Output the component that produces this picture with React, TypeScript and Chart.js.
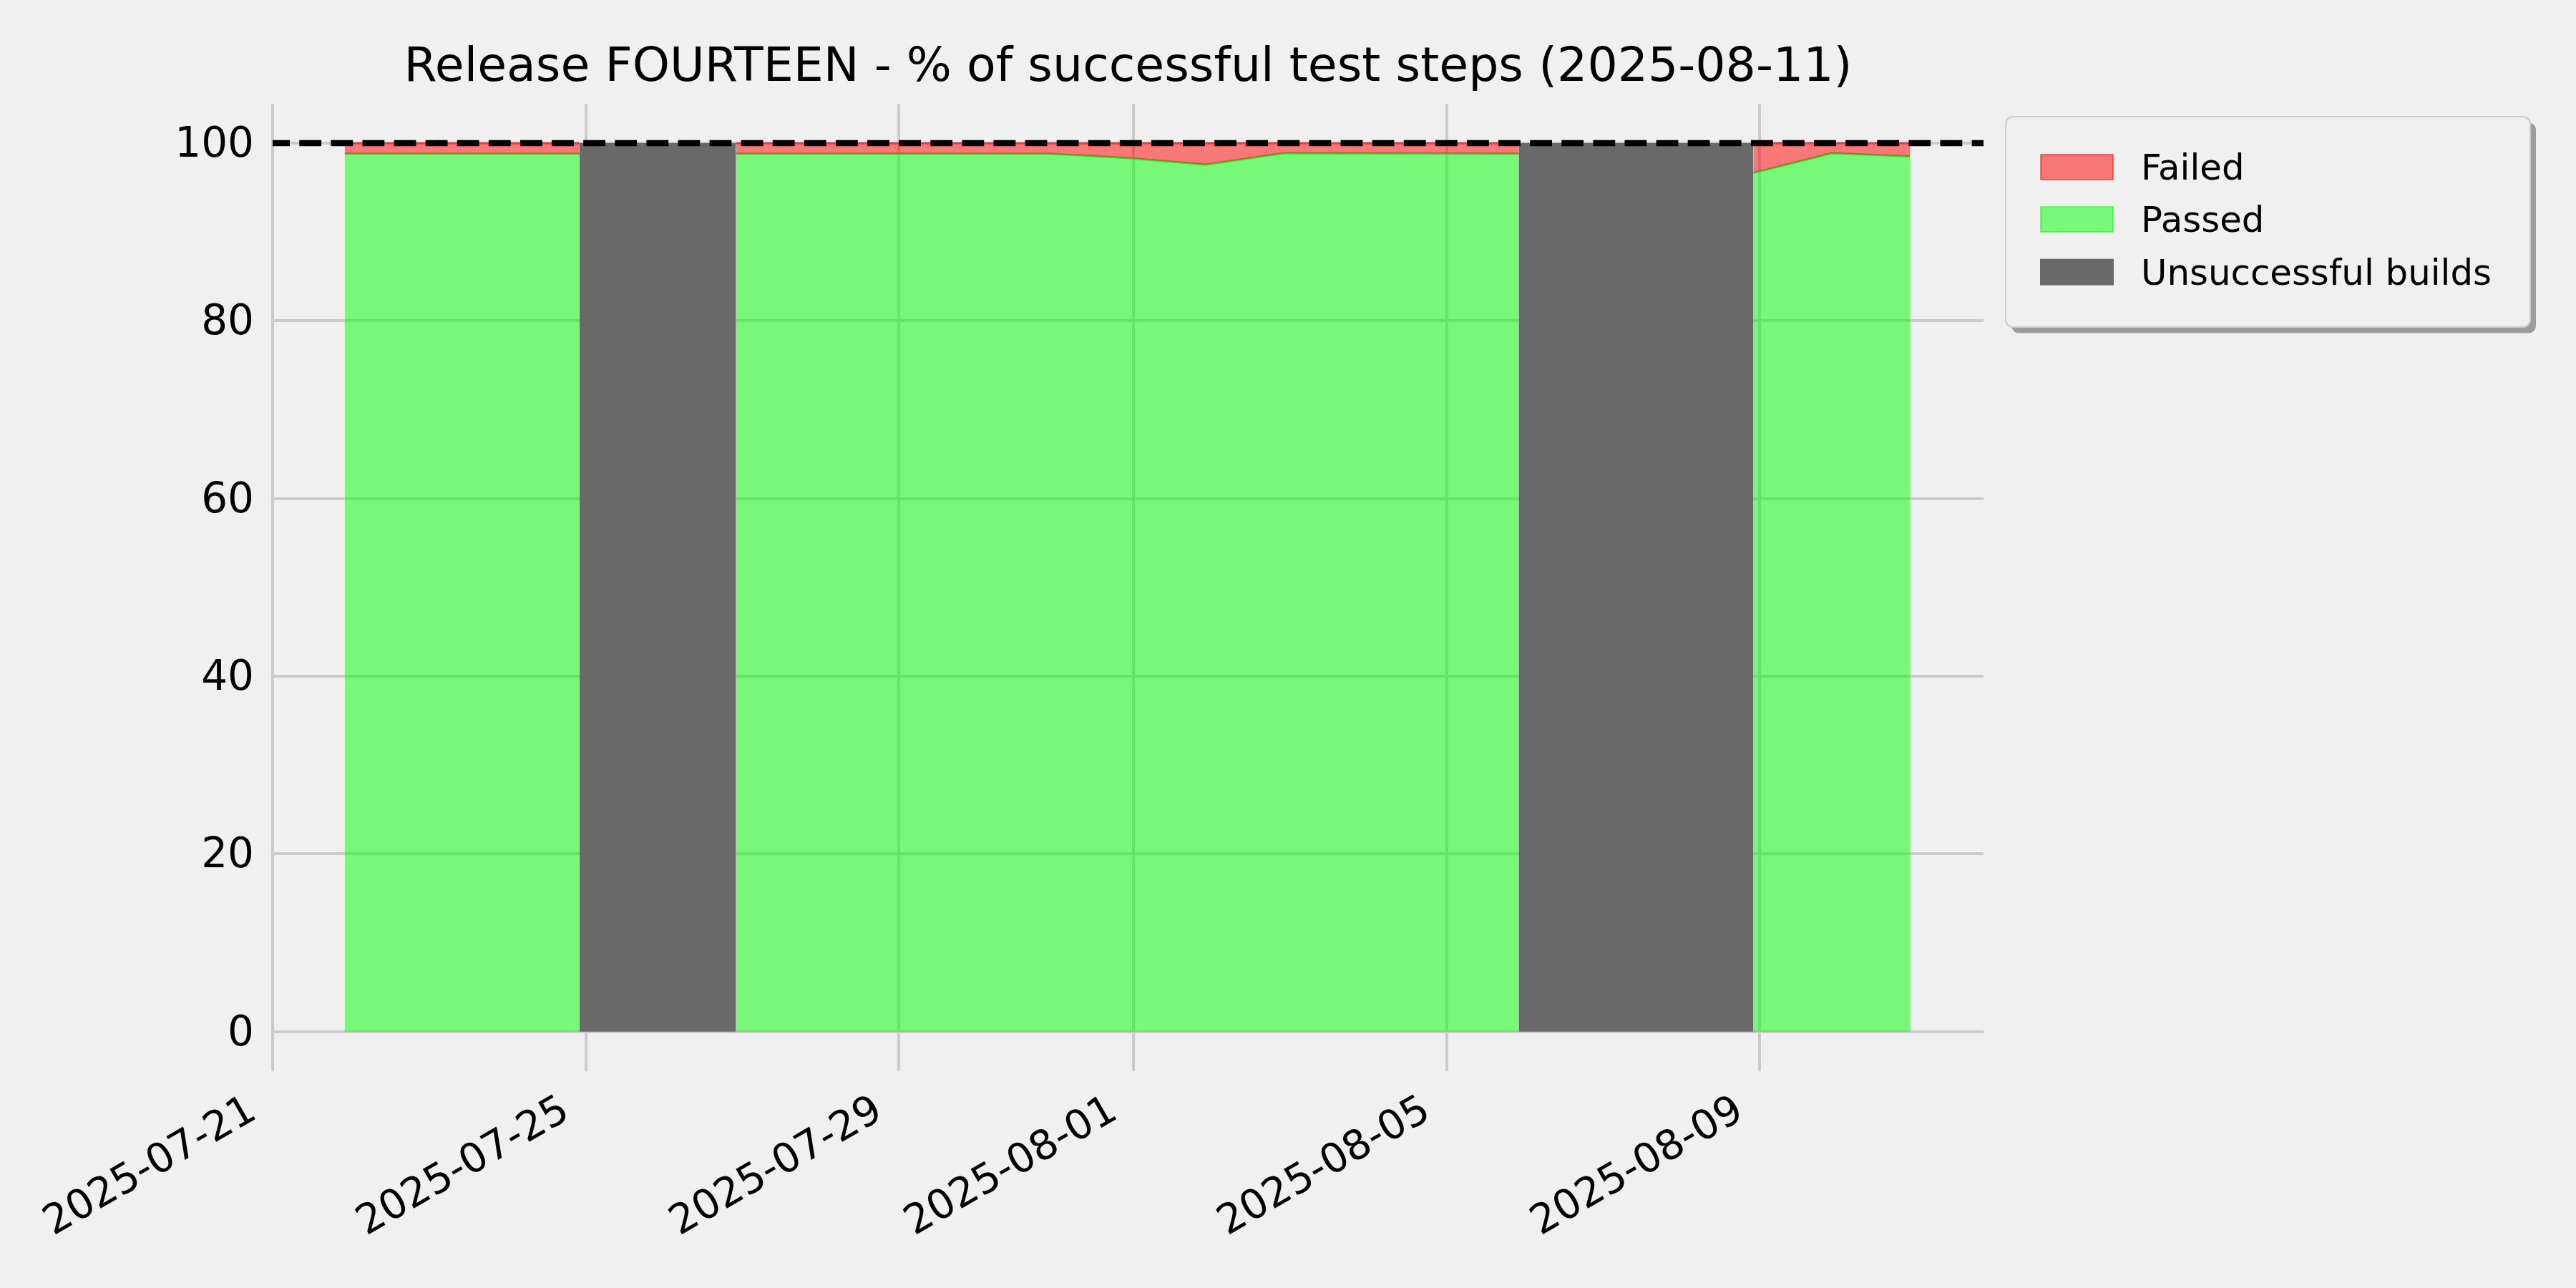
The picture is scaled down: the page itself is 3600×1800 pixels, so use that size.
import React, { useEffect, useRef } from 'react';
import { Chart, registerables } from 'chart.js';

Chart.register(...registerables);

// ---------- data ----------
const TITLE = 'Release FOURTEEN - % of successful test steps (2025-08-11)';
const AXIS_START = '2025-07-21';
const AXIS_END_DAYS = 21.86; // x-axis right limit, days after AXIS_START
const RUN_DATES = [
  '2025-07-21', '2025-07-22', '2025-07-23', '2025-07-24', '2025-07-25', '2025-07-26', '2025-07-27',
  '2025-07-28', '2025-07-29', '2025-07-30', '2025-07-31', '2025-08-01', '2025-08-02', '2025-08-03',
  '2025-08-04', '2025-08-05', '2025-08-06', '2025-08-07', '2025-08-08', '2025-08-09', '2025-08-10',
];
const RUN_HOUR = 22.1; // nightly run time (hours)
const PASSED = [98.82, 98.82, 98.82, 98.82, null, 98.82, 98.82, 98.82, 98.82, 98.82, 98.33, 97.58, 98.87, 98.85, 98.84, 98.82, null, null, 96.65, 98.87, 98.52];
const FAILED = [1.18, 1.18, 1.18, 1.18, null, 1.18, 1.18, 1.18, 1.18, 1.18, 1.67, 2.42, 1.13, 1.15, 1.16, 1.18, null, null, 3.35, 1.13, 1.48];
const UNSUCCESSFUL_BUILD = [0, 0, 0, 1, 1, 1, 0, 0, 0, 0, 0, 0, 0, 0, 0, 1, 1, 1, 1, 0, 0];
const TARGET = 100;
const X_TICK_LABELS = ['2025-07-21', '2025-07-25', '2025-07-29', '2025-08-01', '2025-08-05', '2025-08-09'];
const Y_TICKS = [0, 20, 40, 60, 80, 100];
const Y_MIN = -4.45;
const Y_MAX = 104.43;
const LEGEND_LABELS = ['Failed', 'Passed', 'Unsuccessful builds'];

// ---------- helpers ----------
const DAY_MS = 86400000;
const dayOf = (d: string) => (Date.parse(d) - Date.parse(AXIS_START)) / DAY_MS;
const X_TICK_DAYS = X_TICK_LABELS.map(dayOf);
const runX = RUN_DATES.map((d) => dayOf(d) + RUN_HOUR / 24);

const FONT = 'DejaVu Sans';
const BG = '#f0f0f0';
const RED_FILL = 'rgba(255,0,0,0.5)';
const GREEN_FILL = 'rgba(0,255,0,0.5)';
const GREY = '#696969';

function roundRect(ctx: CanvasRenderingContext2D, x: number, y: number, w: number, h: number, r: number) {
  ctx.beginPath();
  ctx.moveTo(x + r, y);
  ctx.lineTo(x + w - r, y);
  ctx.arcTo(x + w, y, x + w, y + r, r);
  ctx.lineTo(x + w, y + h - r);
  ctx.arcTo(x + w, y + h, x + w - r, y + h, r);
  ctx.lineTo(x + r, y + h);
  ctx.arcTo(x, y + h, x, y + h - r, r);
  ctx.lineTo(x, y + r);
  ctx.arcTo(x, y, x + r, y, r);
  ctx.closePath();
}

const backgroundPlugin = {
  id: 'bg',
  beforeDraw(chart: any) {
    const ctx = chart.ctx;
    ctx.save();
    ctx.fillStyle = BG;
    ctx.fillRect(0, 0, chart.width, chart.height);
    ctx.restore();
  },
};

const titleLegendPlugin = {
  id: 'titleLegend',
  afterDraw(chart: any) {
    const ctx: CanvasRenderingContext2D = chart.ctx;
    const area = chart.chartArea;
    ctx.save();
    // title
    ctx.fillStyle = '#000';
    ctx.font = `66.5px "${FONT}"`;
    ctx.textAlign = 'center';
    ctx.textBaseline = 'alphabetic';
    ctx.fillText(TITLE, (area.left + area.right) / 2, 113);

    // legend box
    const lx = 2803, ly = 163, lw = 733, lh = 294, r = 10;
    ctx.fillStyle = 'rgba(72,72,72,0.5)';
    roundRect(ctx, lx + 8, ly + 8.5, lw, lh, r);
    ctx.fill();
    ctx.fillStyle = BG;
    roundRect(ctx, lx, ly, lw, lh, r);
    ctx.fill();
    ctx.strokeStyle = '#cccccc';
    ctx.lineWidth = 2;
    ctx.stroke();

    const fills = [RED_FILL, GREEN_FILL, GREY];
    const edges = ['rgba(255,0,0,0.5)', 'rgba(0,255,0,0.5)', GREY];
    const baselines = [251, 324, 397.7];
    ctx.font = `49.8px "${FONT}"`;
    ctx.textAlign = 'left';
    LEGEND_LABELS.forEach((lab, i) => {
      const b = baselines[i];
      ctx.fillStyle = fills[i];
      ctx.fillRect(2852, b - 35, 101, 35);
      ctx.strokeStyle = edges[i];
      ctx.lineWidth = 2;
      ctx.strokeRect(2852, b - 35, 101, 35);
      ctx.fillStyle = '#000';
      ctx.fillText(lab, 2992, b);
    });
    ctx.restore();
  },
};

export default function App() {
  const ref = useRef<HTMLCanvasElement | null>(null);

  useEffect(() => {
    document.body.style.margin = '0';
    document.body.style.background = BG;
    const canvas = ref.current;
    if (!canvas) return;

    const passedPts = runX.map((x, i) => ({ x, y: PASSED[i] }));
    const topPts = runX.map((x, i) => ({
      x,
      y: PASSED[i] == null || FAILED[i] == null ? null : (PASSED[i] as number) + (FAILED[i] as number),
    }));
    const greyPts = runX.map((x, i) => ({ x, y: UNSUCCESSFUL_BUILD[i] ? TARGET : null }));

    const chart = new Chart(canvas, {
      type: 'line',
      data: {
        datasets: [
          {
            label: 'Passed',
            data: passedPts as any,
            fill: 'origin',
            backgroundColor: GREEN_FILL,
            borderColor: 'rgba(40,200,20,0.75)',
            borderWidth: 3,
            pointRadius: 0,
            tension: 0,
            spanGaps: false,
            order: 4,
          },
          {
            label: 'Failed',
            data: topPts as any,
            fill: 0,
            backgroundColor: RED_FILL,
            borderColor: 'rgba(235,40,40,0.7)',
            borderWidth: 3,
            pointRadius: 0,
            tension: 0,
            spanGaps: false,
            order: 3,
          },
          {
            label: 'Unsuccessful builds',
            data: greyPts as any,
            fill: 'origin',
            backgroundColor: GREY,
            borderColor: 'rgba(0,0,0,0)',
            borderWidth: 1,
            pointRadius: 0,
            tension: 0,
            spanGaps: false,
            order: 2,
          },
          {
            label: 'target',
            data: [
              { x: 0, y: TARGET },
              { x: AXIS_END_DAYS, y: TARGET },
            ],
            fill: false,
            borderColor: '#000000',
            borderWidth: 8.33,
            borderDash: [30.8, 13.3],
            borderDashOffset: 6.8,
            borderCapStyle: 'butt',
            pointRadius: 0,
            order: 1,
          },
        ],
      },
      options: {
        responsive: false,
        animation: false,
        devicePixelRatio: 1,
        events: [],
        layout: { padding: { top: 145, right: 3600 - 2772, left: 0, bottom: 0 } },
        plugins: {
          legend: { display: false },
          title: { display: false },
          tooltip: { enabled: false },
        },
        scales: {
          x: {
            type: 'linear',
            min: 0,
            max: AXIS_END_DAYS,
            afterBuildTicks: (scale: any) => {
              scale.ticks = X_TICK_DAYS.map((v) => ({ value: v }));
            },
            afterFit: (scale: any) => {
              scale.height = 303;
            },
            grid: { color: '#cbcbcb', lineWidth: 4, drawTicks: false },
            border: { display: false },
            ticks: {
              autoSkip: false,
              minRotation: 30,
              maxRotation: 30,
              padding: 22,
              labelOffset: -27,
              color: '#000',
              font: { family: FONT, size: 57 },
              callback: (value: any) => {
                const i = X_TICK_DAYS.indexOf(value);
                return i >= 0 ? X_TICK_LABELS[i] : '';
              },
            },
          },
          y: {
            type: 'linear',
            min: Y_MIN,
            max: Y_MAX,
            afterBuildTicks: (scale: any) => {
              scale.ticks = Y_TICKS.map((v) => ({ value: v }));
            },
            afterFit: (scale: any) => {
              scale.width = 381;
            },
            grid: { color: '#cbcbcb', lineWidth: 4, drawTicks: false },
            border: { display: false },
            ticks: {
              padding: 26,
              labelOffset: 4,
              color: '#000',
              font: { family: FONT, size: 58 },
              callback: (value: any) => String(value),
            },
          },
        },
      } as any,
      plugins: [backgroundPlugin, titleLegendPlugin],
    });

    return () => chart.destroy();
  }, []);

  return (
    <div style={{ width: 3600, height: 1800, background: BG }}>
      <canvas ref={ref} width={3600} height={1800} style={{ display: 'block' }} />
    </div>
  );
}
